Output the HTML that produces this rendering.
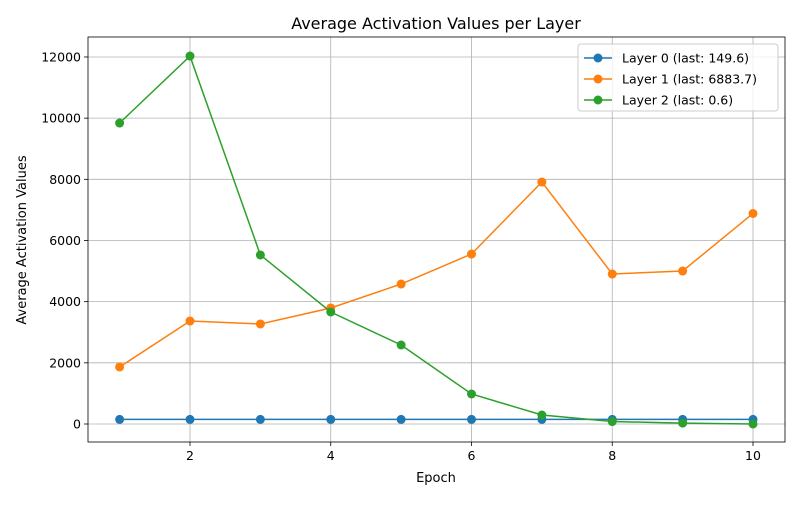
<!DOCTYPE html>
<html><head><meta charset="utf-8"><style>
body{margin:0;background:#fff;font-family:"Liberation Sans","DejaVu Sans",sans-serif}
svg text{font-family:"DejaVu Sans","Liberation Sans",sans-serif}
</style></head><body>
<svg id="chart" width="800" height="500" xmlns="http://www.w3.org/2000/svg"></svg>
<script>
const epochs=[1,2,3,4,5,6,7,8,9,10];
const layer0=[149.6,149.6,149.6,149.6,149.6,149.6,149.6,149.6,149.6,149.6];
const layer1=[1864,3367,3270,3793,4577,5558,7912,4904,5002,6883.7];
const layer2=[9841,12030,5526,3662,2583,981,294,80,30,0.6];
const xTicks=[2,4,6,8,10];
const yTicks=[0,2000,4000,6000,8000,10000,12000];
const seriesNames=["Layer 0 (last: 149.6)","Layer 1 (last: 6883.7)","Layer 2 (last: 0.6)"];
const colors=["#1f77b4","#ff7f0e","#2ca02c"];

const L=88,R=785,T=37,B=442;
const xs=v=>190+(v-2)*70.375;
const ys=v=>424-v*0.030585;
const svg=document.getElementById('chart');
const NS="http://www.w3.org/2000/svg";
function mk(tag,attrs,parent){const e=document.createElementNS(NS,tag);for(const k in attrs)e.setAttribute(k,attrs[k]);(parent||svg).appendChild(e);return e;}

// grid
xTicks.forEach(t=>{
 const g=mk('line',{x1:xs(t),x2:xs(t),y1:T,y2:B,stroke:'#b0b0b0','stroke-width':0.8});
 
 
 mk('line',{x1:xs(t),x2:xs(t),y1:B,y2:B+4,stroke:'#000','stroke-width':0.8});
 const tx=mk('text',{x:xs(t),y:B+18,'text-anchor':'middle','font-size':12.5});
 tx.textContent=t;
 
 
});
yTicks.forEach(t=>{
 const g=mk('line',{x1:L,x2:R,y1:ys(t),y2:ys(t),stroke:'#b0b0b0','stroke-width':0.8});
 
 
 mk('line',{x1:L-4,x2:L,y1:ys(t),y2:ys(t),stroke:'#000','stroke-width':0.8});
 const tx=mk('text',{x:L-7,y:ys(t)+4.5,'text-anchor':'end','font-size':12.5});
 tx.textContent=t;
 
 
});
const frame=mk('rect',{x:L,y:T,width:R-L,height:B-T,fill:'none',stroke:'#000','stroke-width':0.8});



[layer0,layer1,layer2].forEach((data,i)=>{
 const g=mk('g',{});
 
 
 mk('polyline',{points:data.map((v,j)=>xs(epochs[j])+','+ys(v)).join(' '),fill:'none',stroke:colors[i],'stroke-width':1.5},g);
 data.forEach((v,j)=>{
  const c=mk('circle',{cx:xs(epochs[j]),cy:ys(v),r:4.5,fill:colors[i]},g);
  
  
 });
});

const title=mk('text',{x:436,y:29,'text-anchor':'middle','font-size':16});
title.textContent="Average Activation Values per Layer";


const xl=mk('text',{x:436,y:482,'text-anchor':'middle','font-size':13});
xl.textContent="Epoch";


const yl=mk('text',{x:26,y:240,'text-anchor':'middle','font-size':13,transform:'rotate(-90 26 240)'});
yl.textContent="Average Activation Values";



const lg=mk('g',{});


mk('rect',{x:578,y:44,width:200,height:67,rx:3,fill:'#fff','fill-opacity':0.8,stroke:'#ccc'},lg);
seriesNames.forEach((n,i)=>{
 const y=58+i*21;
 mk('line',{x1:584,x2:612,y1:y,y2:y,stroke:colors[i],'stroke-width':1.5},lg);
 mk('circle',{cx:598,cy:y,r:4.5,fill:colors[i]},lg);
 const t=mk('text',{x:622,y:y+4.5,'font-size':12.5},lg);
 t.textContent=n;
 
 
});
</script>
</body></html>
